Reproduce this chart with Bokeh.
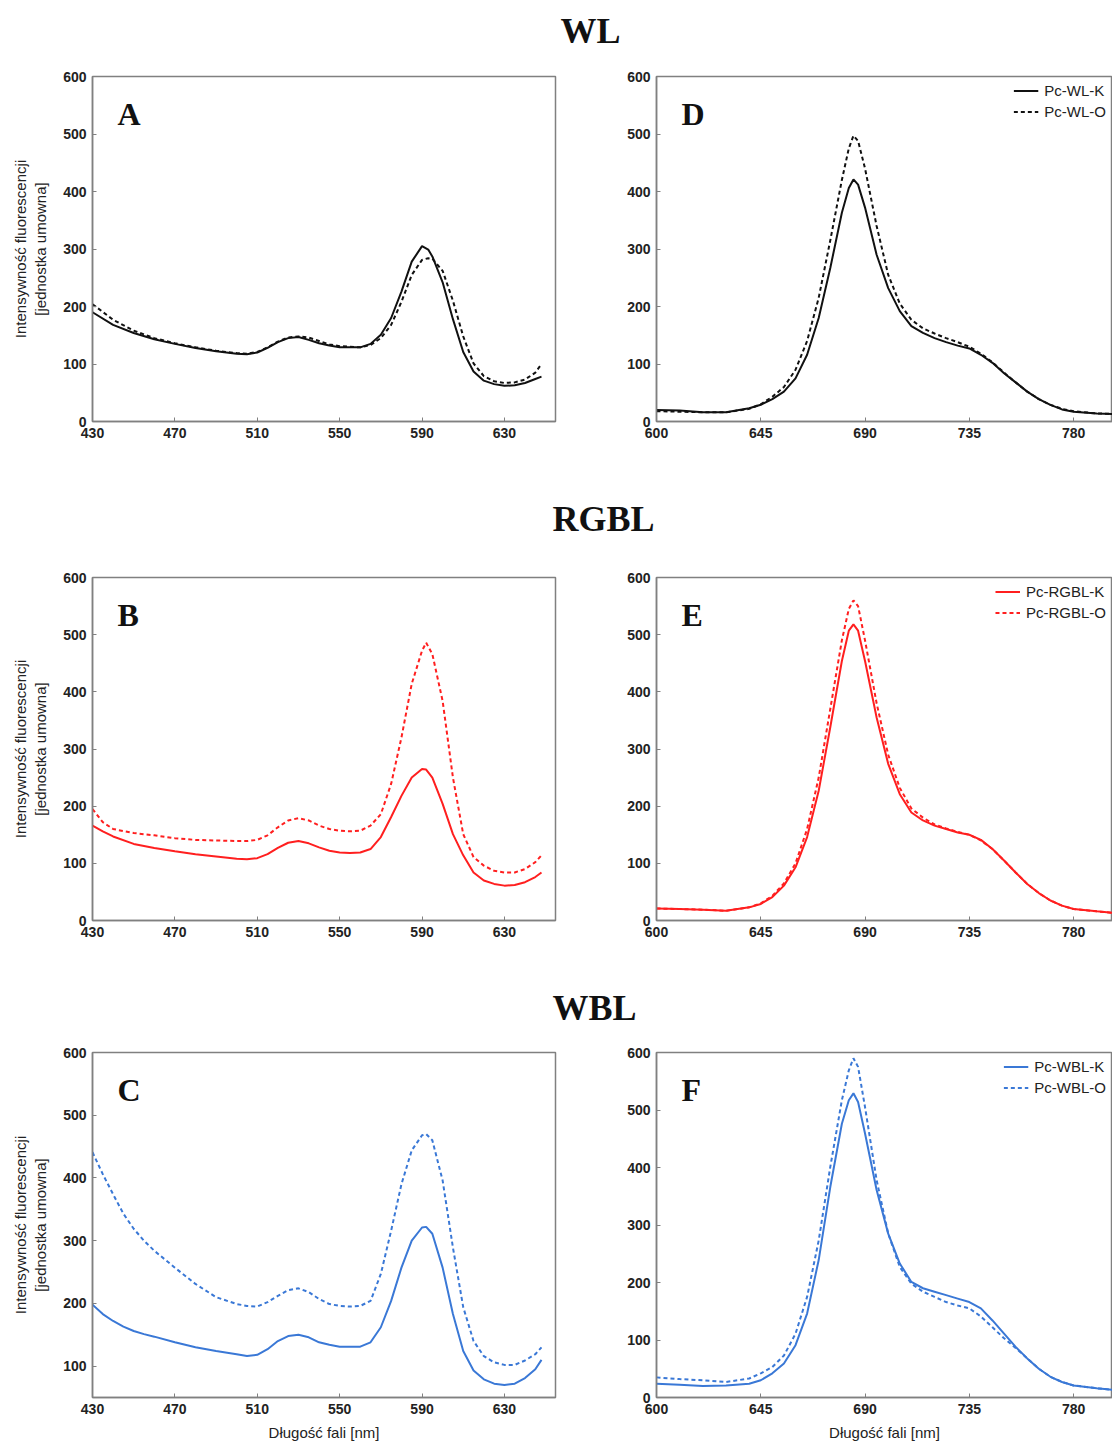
from bokeh.plotting import figure
from bokeh.layouts import column, row
from bokeh.models import Range1d, Label, FixedTicker, Legend, LegendItem
from bokeh.embed import file_html
from bokeh.resources import INLINE

# ---------------- data ----------------
# Excitation-side spectra (left panels)
x_A = [430, 440, 450, 460, 470, 480, 490, 500, 505, 510, 515, 520, 525, 530, 535, 540, 545, 550, 555, 560,
       565, 570, 575, 580, 585, 590, 593, 595, 600, 605, 610, 615, 620, 625, 630, 635, 640, 645, 648]
wl_k_left = [190, 168, 154, 143, 135, 128, 122, 118, 117, 120, 128, 138, 145, 147, 142, 136, 132, 129, 129, 129,
             135, 151, 180, 226, 278, 305, 299, 287, 242, 178, 121, 87, 71, 65, 62, 63, 67, 74, 78]
wl_o_left = [204, 177, 158, 145, 136, 129, 123, 119, 118, 121, 129, 139, 146, 148, 146, 140, 134, 131, 130, 129,
             133, 145, 168, 208, 255, 281, 284, 283, 262, 210, 148, 101, 79, 70, 67, 68, 73, 85, 100]

x_B = [430, 435, 440, 450, 460, 470, 480, 490, 500, 505, 510, 515, 520, 525, 530, 535, 540, 545, 550, 555,
       560, 565, 570, 575, 580, 585, 590, 592, 595, 600, 605, 610, 615, 620, 625, 630, 635, 640, 645, 648]
rgbl_k_left = [166, 156, 147, 134, 127, 121, 116, 112, 108, 107, 109, 116, 127, 136, 139, 135, 128, 122, 119, 118,
               119, 125, 146, 181, 218, 250, 265, 264, 250, 204, 151, 114, 84, 70, 64, 61, 62, 67, 76, 84]
rgbl_o_left = [195, 172, 160, 153, 149, 144, 141, 140, 139, 139, 141, 149, 163, 175, 179, 175, 166, 160, 157, 156,
               157, 166, 186, 239, 320, 414, 472, 486, 466, 384, 250, 151, 111, 96, 87, 84, 84, 90, 102, 114]

x_C = [430, 435, 440, 445, 450, 455, 460, 470, 480, 490, 500, 505, 510, 515, 520, 525, 530, 535, 540, 545,
       550, 555, 560, 565, 570, 575, 580, 585, 590, 592, 595, 600, 605, 610, 615, 620, 625, 630, 635, 640, 645, 648]
wbl_k_left = [198, 183, 172, 163, 156, 151, 147, 138, 130, 124, 119, 116, 118, 127, 140, 148, 150, 146, 138, 134,
              131, 131, 131, 138, 162, 204, 257, 300, 321, 322, 311, 257, 183, 124, 93, 79, 72, 70, 72, 81, 95, 110]
wbl_o_left = [441, 406, 374, 343, 319, 300, 284, 257, 231, 210, 199, 196, 195, 202, 212, 221, 224, 218, 207, 199,
              196, 195, 196, 204, 247, 316, 390, 444, 468, 470, 460, 396, 289, 194, 140, 116, 106, 102, 102, 109, 119, 130]

# Emission-side spectra (right panels)
x_R = [600, 610, 620, 630, 640, 645, 650, 655, 660, 665, 670, 675, 680, 683, 685, 687, 690, 695, 700, 705,
       710, 715, 720, 725, 730, 735, 740, 745, 750, 755, 760, 765, 770, 775, 780, 790, 798]
wl_k_right = [20, 19, 16, 16, 23, 29, 39, 52, 75, 116, 180, 267, 363, 406, 421, 412, 372, 290, 232, 192,
              166, 154, 145, 138, 132, 127, 116, 102, 84, 68, 52, 39, 29, 21, 17, 14, 13]
wl_o_right = [18, 17, 16, 16, 22, 30, 43, 60, 90, 140, 215, 315, 420, 475, 497, 488, 440, 340, 255, 205,
              177, 162, 153, 145, 138, 130, 118, 103, 85, 68, 52, 39, 29, 22, 18, 14, 13]
rgbl_k_right = [21, 20, 19, 17, 23, 29, 41, 61, 93, 146, 227, 338, 454, 507, 518, 507, 454, 355, 274, 221,
                189, 175, 166, 160, 154, 150, 141, 125, 105, 84, 64, 48, 35, 26, 20, 16, 13]
rgbl_o_right = [21, 20, 19, 17, 23, 30, 43, 65, 100, 160, 250, 370, 490, 545, 560, 550, 490, 380, 290, 232,
                196, 180, 168, 161, 155, 150, 140, 125, 105, 84, 64, 48, 35, 26, 20, 16, 13]
wbl_k_right = [24, 22, 20, 21, 24, 30, 42, 59, 91, 146, 239, 366, 476, 517, 529, 514, 459, 361, 285, 233,
               201, 190, 184, 178, 172, 166, 155, 134, 111, 88, 68, 50, 36, 27, 21, 16, 13]
wbl_o_right = [35, 32, 30, 27, 33, 42, 53, 73, 111, 175, 273, 401, 517, 569, 590, 575, 505, 378, 285, 227,
               198, 184, 175, 166, 160, 155, 141, 122, 103, 86, 68, 50, 36, 27, 21, 16, 13]

left_xticks = [430, 470, 510, 550, 590, 630]
right_xticks = [600, 645, 690, 735, 780]
yticks_full = [0, 100, 200, 300, 400, 500, 600]
yticks_c = [100, 200, 300, 400, 500, 600]

group_titles = ["WL", "RGBL", "WBL"]
panel_letters = ["A", "D", "B", "E", "C", "F"]
legend_labels = [["Pc-WL-K", "Pc-WL-O"], ["Pc-RGBL-K", "Pc-RGBL-O"], ["Pc-WBL-K", "Pc-WBL-O"]]
colors = ["#111111", "#ff1f1f", "#3a78d6"]
ylabel_text = "Intensywność fluorescencji\n[jednostka umowna]"
xlabel_text = "Długość fali [nm]"

SANS = "Liberation Sans"
SERIF = "Liberation Serif"
FRAME = "#808080"

LEFT_W, RIGHT_W = 600, 512
LEFT_BL, LEFT_BR = 92, 45
RIGHT_BL, RIGHT_BR = 56, 0
LEFT_XR = (430, 654.8)
RIGHT_XR = (600, 796.8)


def panel(width, bl, br, frame_h, bt, bb, xr, yr, xticks, yticks, letter, ylabel=None, xlabel=None):
    height = bt + frame_h + bb
    p = figure(width=width, height=height, x_range=Range1d(*xr), y_range=Range1d(*yr),
               toolbar_location=None, output_backend="svg",
               min_border_left=bl, min_border_right=br, min_border_top=bt, min_border_bottom=bb)
    p.grid.visible = False
    p.outline_line_color = FRAME
    p.outline_line_width = 1.5
    for ax in p.axis:
        ax.axis_line_color = FRAME
        ax.axis_line_width = 1.5
        ax.major_tick_in = 4
        ax.major_tick_out = 0
        ax.major_tick_line_color = FRAME
        ax.minor_tick_line_color = None
        ax.major_label_text_font = SANS
        ax.major_label_text_font_style = "bold"
        ax.major_label_text_font_size = "14px"
        ax.major_label_text_color = "#222222"
        ax.major_label_standoff = 6
    p.xaxis.ticker = FixedTicker(ticks=xticks)
    p.yaxis.ticker = FixedTicker(ticks=yticks)
    if ylabel:
        p.yaxis.axis_label = ylabel
        p.yaxis.axis_label_text_font = SANS
        p.yaxis.axis_label_text_font_style = "normal"
        p.yaxis.axis_label_text_font_size = "15px"
        p.yaxis.axis_label_text_color = "#222222"
        p.yaxis.axis_label_standoff = 11
    if xlabel:
        p.xaxis.axis_label = xlabel
        p.xaxis.axis_label_text_font = SANS
        p.xaxis.axis_label_text_font_style = "normal"
        p.xaxis.axis_label_text_font_size = "15px"
        p.xaxis.axis_label_text_color = "#222222"
        p.xaxis.axis_label_standoff = 7
    frame_w = width - bl - br
    pxx = frame_w / (xr[1] - xr[0])
    pxy = frame_h / (yr[1] - yr[0])
    p.add_layout(Label(x=xr[0] + 25 / pxx, y=yr[1] - 37 / pxy, text=letter,
                       text_font=SERIF, text_font_style="bold", text_font_size="32px",
                       text_color="#111111", text_align="left", text_baseline="middle"))
    return p


def add_pair(p, x, yk, yo, color, labels=None):
    rk = p.line(x, yk, line_color=color, line_width=2)
    ro = p.line(x, yo, line_color=color, line_width=2, line_dash="4 3")
    if labels:
        leg = Legend(items=[LegendItem(label=labels[0], renderers=[rk]),
                            LegendItem(label=labels[1], renderers=[ro])],
                     location="top_right")
        leg.label_text_font = SANS
        leg.label_text_font_size = "15px"
        leg.label_text_color = "#222222"
        leg.glyph_width = 25
        leg.glyph_height = 15
        leg.label_height = 15
        leg.label_standoff = 6
        leg.spacing = 4
        leg.padding = 2
        leg.margin = 4
        leg.border_line_alpha = 0
        leg.background_fill_alpha = 0
        p.add_layout(leg)


def title_fig(h, text, cx, cy):
    t = figure(width=LEFT_W + RIGHT_W, height=h, x_range=Range1d(0, LEFT_W + RIGHT_W), y_range=Range1d(0, h),
               toolbar_location=None, output_backend="svg", x_axis_location=None, y_axis_location=None,
               min_border=0, outline_line_color=None)
    t.grid.visible = False
    t.add_layout(Label(x=cx, y=h - cy, text=text, text_font=SERIF, text_font_style="bold",
                       text_font_size="36px", text_color="#111111", text_align="center",
                       text_baseline="middle"))
    return t


# Row 1 (WL)
t1 = title_fig(56, group_titles[0], 590, 30)
pA = panel(LEFT_W, LEFT_BL, LEFT_BR, 345, 20, 49, LEFT_XR, (0, 600), left_xticks, yticks_full,
           panel_letters[0], ylabel=ylabel_text)
add_pair(pA, x_A, wl_k_left, wl_o_left, colors[0])
pD = panel(RIGHT_W, RIGHT_BL, RIGHT_BR, 345, 20, 49, RIGHT_XR, (0, 600), right_xticks, yticks_full,
           panel_letters[1])
add_pair(pD, x_R, wl_k_right, wl_o_right, colors[0], legend_labels[0])

# Row 2 (RGBL)
t2 = title_fig(87, group_titles[1], 603, 48)
pB = panel(LEFT_W, LEFT_BL, LEFT_BR, 343, 20, 49, LEFT_XR, (0, 600), left_xticks, yticks_full,
           panel_letters[2], ylabel=ylabel_text)
add_pair(pB, x_B, rgbl_k_left, rgbl_o_left, colors[1])
pE = panel(RIGHT_W, RIGHT_BL, RIGHT_BR, 343, 20, 49, RIGHT_XR, (0, 600), right_xticks, yticks_full,
           panel_letters[3])
add_pair(pE, x_R, rgbl_k_right, rgbl_o_right, colors[1], legend_labels[1])

# Row 3 (WBL)
t3 = title_fig(63, group_titles[2], 594, 38)
pC = panel(LEFT_W, LEFT_BL, LEFT_BR, 345, 20, 50, LEFT_XR, (50, 600), left_xticks, yticks_c,
           panel_letters[4], ylabel=ylabel_text, xlabel=xlabel_text)
add_pair(pC, x_C, wbl_k_left, wbl_o_left, colors[2])
pF = panel(RIGHT_W, RIGHT_BL, RIGHT_BR, 345, 20, 50, RIGHT_XR, (0, 600), right_xticks, yticks_full,
           panel_letters[5], xlabel=xlabel_text)
add_pair(pF, x_R, wbl_k_right, wbl_o_right, colors[2], legend_labels[2])

layout = column(t1, row(pA, pD), t2, row(pB, pE), t3, row(pC, pF))

open("out.html", "w").write(file_html(layout, INLINE))
